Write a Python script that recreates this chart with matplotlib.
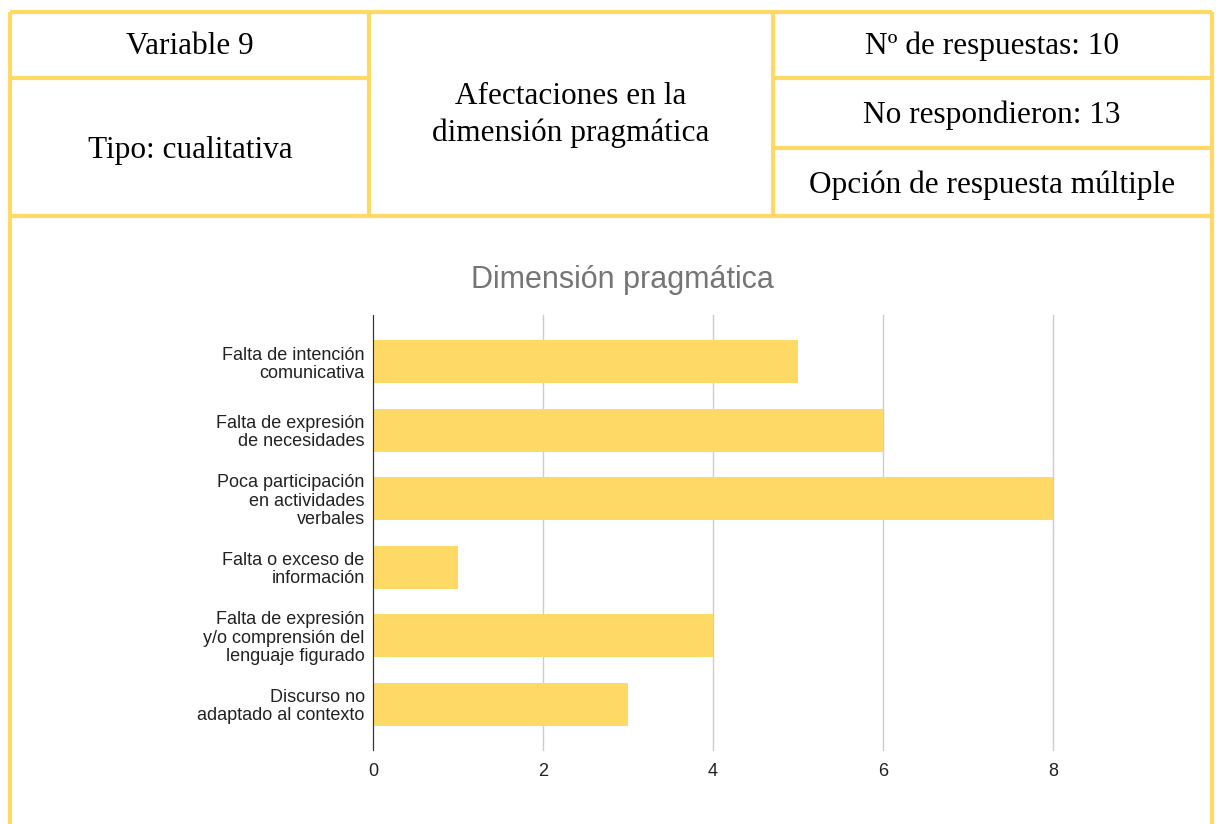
import matplotlib
matplotlib.use("Agg")
import matplotlib.pyplot as plt

categorias = [
    "Falta de intención\ncomunicativa",
    "Falta de expresión\nde necesidades",
    "Poca participación\nen actividades\nverbales",
    "Falta o exceso de\ninformación",
    "Falta de expresión\ny/o comprensión del\nlenguaje figurado",
    "Discurso no\nadaptado al contexto",
]
valores = [5, 6, 8, 1, 4, 3]
ticks_x = [0, 2, 4, 6, 8]

titulo = "Dimensión pragmática"
celdas = {
    "var": "Variable 9",
    "tipo": "Tipo: cualitativa",
    "nombre": "Afectaciones en la\ndimensión pragmática",
    "n": "Nº de respuestas: 10",
    "no": "No respondieron: 13",
    "opc": "Opción de respuesta múltiple",
}

amarillo = "#FFD966"
W, H = 1216, 824
fig = plt.figure(figsize=(W / 100, H / 100), dpi=100)

# fondo con la tabla (coordenadas en pixeles)
bg = fig.add_axes([0, 0, 1, 1])
bg.set_xlim(0, W)
bg.set_ylim(H, 0)
bg.axis("off")
lw = 3
# bordes verticales
for x, y0, y1 in [(10, 12, H), (1212, 12, H), (369, 12, 216), (773, 12, 216)]:
    bg.plot([x, x], [y0, y1], color=amarillo, lw=lw, solid_capstyle="butt")
# bordes horizontales
for y, x0, x1 in [(12, 10, 1212), (216, 10, 1212), (78, 10, 369), (78, 773, 1212), (148, 773, 1212)]:
    bg.plot([x0, x1], [y, y], color=amarillo, lw=lw, solid_capstyle="butt")

serif = dict(family="Liberation Serif", size=22.5, color="black", ha="center", va="center")
bg.text(190, 46, celdas["var"], **serif)
bg.text(190, 150, celdas["tipo"], **serif)
bg.text(571, 115, celdas["nombre"], linespacing=1.3, **serif)
bg.text(992, 46, celdas["n"], **serif)
bg.text(992, 115, celdas["no"], **serif)
bg.text(992, 185, celdas["opc"], **serif)

bg.text(622, 280, titulo, family="Liberation Sans", size=22, color="#757575",
        ha="center", va="center")

# grafico de barras
ax = fig.add_axes([373 / W, (H - 750) / H, (1053 - 373) / W, (750 - 315) / H])
y = list(range(len(categorias)))
ax.barh(y, valores, height=0.63, color=amarillo, zorder=3)
ax.set_ylim(5.67, -0.68)
ax.set_xlim(0, 8)
ax.set_xticks(ticks_x)
ax.set_yticks(y)
ax.set_yticklabels(categorias, family="Liberation Sans", size=13, color="#222222",
                   linespacing=1.1)
ax.set_xticklabels([str(t) for t in ticks_x], family="Liberation Sans", size=13,
                   color="#222222")
ax.tick_params(axis="both", length=0)
ax.tick_params(axis="y", pad=6)
ax.tick_params(axis="x", pad=9)
ax.grid(axis="x", color="#cccccc", lw=1, zorder=0)
for gl in ax.get_xgridlines():
    gl.set_clip_on(False)
for s in ["top", "right", "bottom"]:
    ax.spines[s].set_visible(False)
ax.spines["left"].set_color("#333333")
ax.spines["left"].set_zorder(4)
ax.patch.set_alpha(0)

fig.savefig("out.png", dpi=100, facecolor="white")
